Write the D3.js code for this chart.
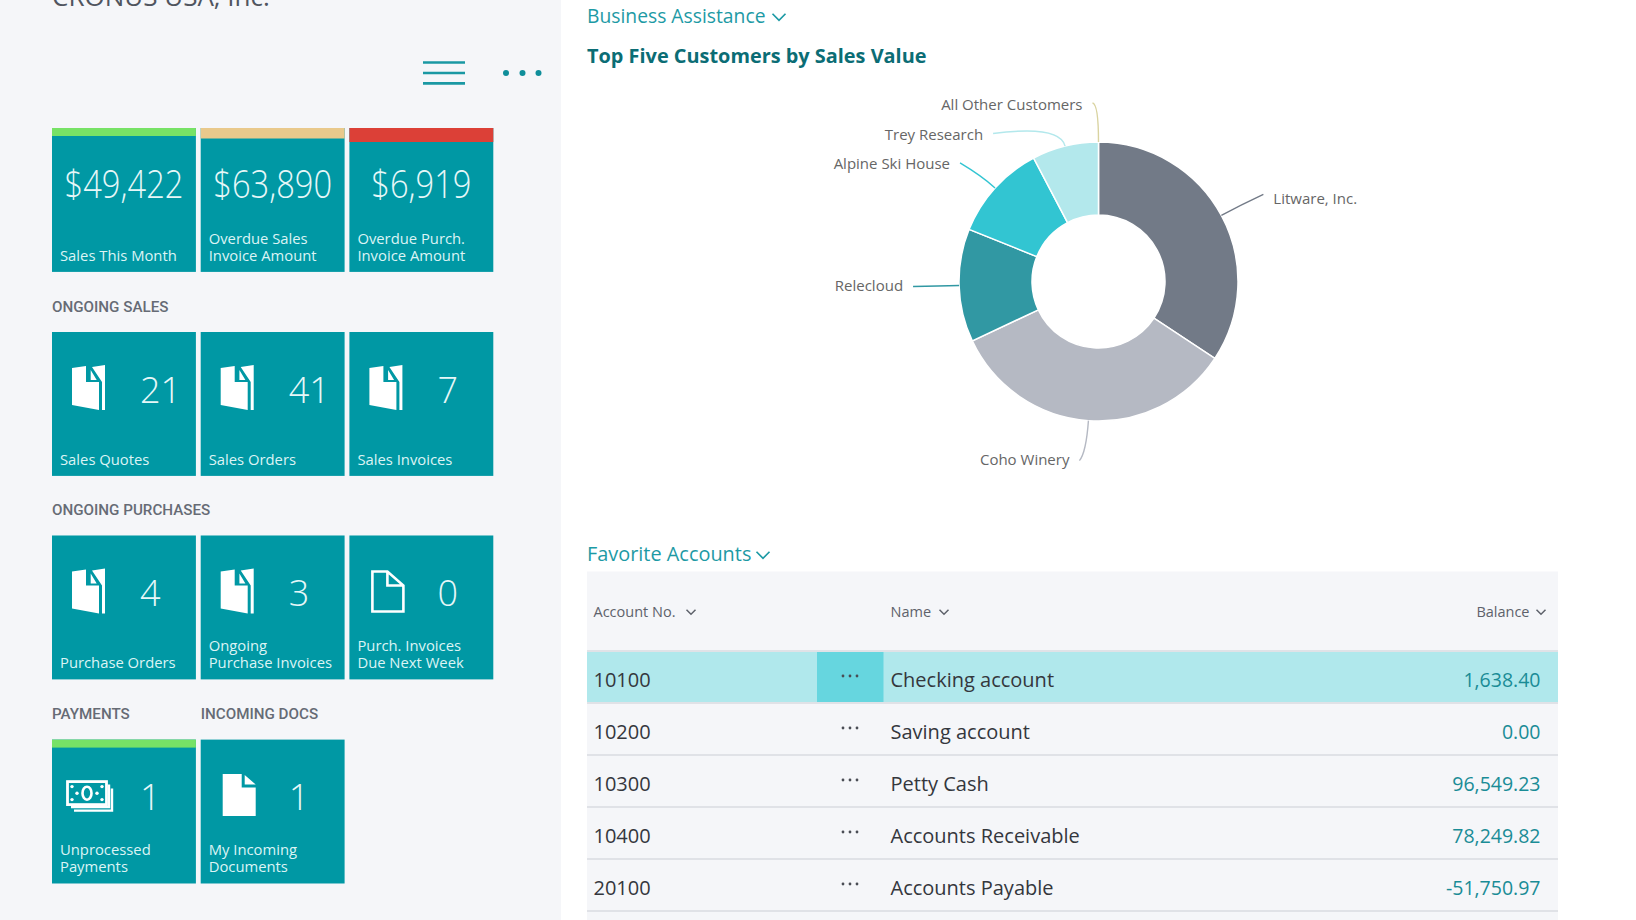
<!DOCTYPE html>
<html>
<head>
<meta charset="utf-8">
<title>CRONUS USA, Inc.</title>
<script src="https://cdn.jsdelivr.net/npm/d3@7"></script>
<style>
  html, body { margin: 0; padding: 0; background: #fff; overflow: hidden; }
  text { font-family: "Open Sans", sans-serif; }
  .section { font-family: Roboto, sans-serif; font-weight: 500; }
</style>
</head>
<body>
<svg id="page" width="1636" height="920"></svg>
<script>
// tiles
var tileLabels = ['Sales This Month', 'Overdue Sales\nInvoice Amount', 'Overdue Purch.\nInvoice Amount',
  'Sales Quotes', 'Sales Orders', 'Sales Invoices',
  'Purchase Orders', 'Ongoing\nPurchase Invoices', 'Purch. Invoices\nDue Next Week',
  'Unprocessed\nPayments', 'My Incoming\nDocuments'];
var tileValues = ['$49,422', '$63,890', '$6,919', '21', '41', '7', '4', '3', '0', '1', '1'];
var tileIcons = ['', '', '', 'pages', 'pages', 'pages', 'pages', 'pages', 'outline', 'money', 'solid'];
var tileStatus = ['good', 'warn', 'bad', '', '', '', '', '', '', 'good', ''];
var sectionNames = ['ONGOING SALES', 'ONGOING PURCHASES', 'PAYMENTS', 'INCOMING DOCS'];

// donut
var customers = ['Litware, Inc.', 'Coho Winery', 'Relecloud', 'Alpine Ski House', 'Trey Research', 'All Other Customers'];
var salesShare = [34.3, 33.7, 13.1, 11.2, 7.7, 0];

// accounts table
var accountNos = ['10100', '10200', '10300', '10400', '20100'];
var accountNames = ['Checking account', 'Saving account', 'Petty Cash', 'Accounts Receivable', 'Accounts Payable'];
var accountBalances = [1638.40, 0, 96549.23, 78249.82, -51750.97];

var TEAL = '#0098a4';
var svg = d3.select('#page');

svg.append('rect').attr('width', 561).attr('height', 920).attr('fill', '#f5f6f9');

// ---- left panel ----
svg.append('text').attr('x', 52).attr('y', 6).attr('font-size', 26).attr('fill', '#50555f').text('CRONUS USA, Inc.');

var menu = svg.append('g').attr('stroke', '#1a98a3').attr('stroke-width', 2.6);
[62.5, 73, 83.4].forEach(function(y) {
  menu.append('line').attr('x1', 423).attr('x2', 465).attr('y1', y).attr('y2', y);
});
[506, 522.5, 538.5].forEach(function(x) {
  svg.append('circle').attr('cx', x).attr('cy', 73).attr('r', 3).attr('fill', '#0f8e9a');
});

var col = d3.scaleLinear().domain([0, 1]).range([52, 200.7]);
var row = d3.scaleLinear().domain([0, 1]).range([128, 332]);
var rowY = [0, 1, 1.9975, 2.998];
var tileSize = 143.9;
var statusColors = { good: '#77e266', warn: '#e9c98c', bad: '#dc4037' };
var statusHeights = { good: 8, warn: 10.5, bad: 14 };

function tileRow(i) { return i < 3 ? 0 : i < 6 ? 1 : i < 9 ? 2 : 3; }
function tileCol(i) { return i < 9 ? i % 3 : i - 9; }

var tiles = svg.selectAll('g.tile').data(tileLabels).enter().append('g')
  .attr('class', 'tile')
  .attr('transform', function(d, i) { return 'translate(' + col(tileCol(i)) + ',' + row(rowY[tileRow(i)]) + ')'; });

tiles.append('rect').attr('width', tileSize).attr('height', tileSize).attr('fill', TEAL);
tiles.filter(function(d, i) { return tileStatus[i]; }).append('rect')
  .attr('width', tileSize)
  .attr('height', function(d) { return statusHeights[tileStatus[tileLabels.indexOf(d)]]; })
  .attr('fill', function(d) { return statusColors[tileStatus[tileLabels.indexOf(d)]]; });

tiles.each(function(d, i) {
  var g = d3.select(this);
  var lines = d.split('\n');
  lines.forEach(function(line, k) {
    g.append('text').attr('x', 8).attr('y', 132.5 - (lines.length - 1 - k) * 17)
      .attr('font-size', 14.8).attr('fill', '#dcf4f5').text(line);
  });
  if (tileIcons[i]) {
    g.append('text').attr('x', 88).attr('y', 70.5).attr('font-size', 36).attr('font-weight', 300)
      .attr('fill', '#e6f7f8').text(tileValues[i]);
    drawIcon(g, tileIcons[i]);
  } else {
    g.append('text').attr('transform', 'translate(72,70) scale(0.86,1)').attr('text-anchor', 'middle')
      .attr('font-size', 38).attr('font-weight', 300).attr('fill', '#e6f7f8').text(tileValues[i]);
  }
});

function drawIcon(g, kind) {
  if (kind == 'pages') {
    g.append('path').attr('fill', '#fff').attr('d',
      'M20 36 L34 34 L34 50 L47 50 L47 78 L20 73 Z M38.7 38 L44.7 48 L38.7 48 Z M40 35 L53 33 L53 78 L50 78 L50 50 Z');
  } else if (kind == 'outline') {
    g.append('path').attr('fill', 'none').attr('stroke', '#fff').attr('stroke-width', 2.6).attr('d',
      'M23 36 L38 36 L54 50 L54 76 L23 76 Z M38 36 L38 50 L54 50');
  } else if (kind == 'solid') {
    g.append('path').attr('fill', '#fff').attr('d', 'M22 34.5 L41 34.5 L41 48 L55 48 L55 76.5 L22 76.5 Z M44 35.5 L55 45 L44 45 Z');
  } else if (kind == 'money') {
    var m = g.append('g').attr('fill', 'none').attr('stroke', '#fff');
    m.append('rect').attr('x', 15.5).attr('y', 42).attr('width', 39).attr('height', 23).attr('stroke-width', 2.8);
    m.append('path').attr('stroke-width', 2.4).attr('d', 'M57 45 L57 67.5 L19 67.5 M60 49 L60 71 L22 71');
    m.append('ellipse').attr('cx', 35).attr('cy', 53.6).attr('rx', 4.5).attr('ry', 6.5).attr('stroke-width', 2.6);
    [[20, 47], [50, 47], [20, 60], [50, 60], [25, 53.6], [45, 53.6]].forEach(function(p) {
      g.append('circle').attr('cx', p[0]).attr('cy', p[1]).attr('r', 1.7).attr('fill', '#fff');
    });
  }
}

var sectionCol = [0, 0, 0, 1];
var sectionRow = [1, 2, 3, 3];
svg.selectAll('text.section').data(sectionNames).enter().append('text')
  .attr('class', 'section')
  .attr('x', function(d, i) { return col(sectionCol[i]); })
  .attr('y', function(d, i) { return row(rowY[sectionRow[i]]) - 20.5; })
  .attr('font-size', 15.2).attr('fill', '#666b75').text(function(d) { return d; });

// ---- right panel headings ----
function heading(label, y, size, weight, color) {
  return svg.append('text').attr('x', 587).attr('y', y).attr('font-size', size)
    .attr('font-weight', weight).attr('fill', color).text(label);
}
function chevron(x, y, w, color, sw) {
  svg.append('path').attr('fill', 'none').attr('stroke', color).attr('stroke-width', sw)
    .attr('d', 'M' + (x - w / 2) + ' ' + (y - w / 4) + ' L' + x + ' ' + (y + w / 4) + ' L' + (x + w / 2) + ' ' + (y - w / 4));
}
heading('Business Assistance', 22.5, 19.3, 400, '#1d9aa5');
chevron(779, 17, 13, '#1d9aa5', 1.7);
heading('Top Five Customers by Sales Value', 63, 19.9, 700, '#0b6d75');
heading('Favorite Accounts', 560.5, 19.9, 400, '#1d9aa5');
chevron(763, 555, 13, '#1d9aa5', 1.7);

// ---- donut ----
var donutColors = ['#727a87', '#b5b9c3', '#3198a3', '#32c5d2', '#b3e8ec', '#d9d3a0'];
// offset of each label's line end from its slice, and how far the line runs out before it bends
var leaderEnds = [[42, -21], [-9, 40], [-46, 1], [-35, -25], [-72, -12.5], [-6, -39]];
var leaderBends = [22, 32, 20, 18, 22, 38];
var labelNudge = [4.5, -1, 0, 1.5, 1, 1.5];
var cx = 1098.5, cy = 281.5, outerR = 139.5, innerR = 66.5;

var pie = d3.pie().sort(null).startAngle(0).endAngle(2 * Math.PI);
var arcs = pie(salesShare);
var arc = d3.arc().innerRadius(innerR).outerRadius(outerR);
var donut = svg.append('g').attr('transform', 'translate(' + cx + ',' + cy + ')');

donut.selectAll('path.slice').data(arcs).enter().append('path')
  .attr('class', 'slice')
  .attr('d', arc)
  .attr('fill', function(d, i) { return donutColors[i]; })
  .attr('stroke', '#fff').attr('stroke-width', function(d) { return d.value > 0 ? 1.5 : 0; });

function onRing(d, r) {
  return d3.arc().innerRadius(r).outerRadius(r).centroid(d);
}
arcs.forEach(function(d, i) {
  var start = onRing(d, outerR);
  var bend = onRing(d, outerR + leaderBends[i]);
  var end = [start[0] + leaderEnds[i][0], start[1] + leaderEnds[i][1]];
  var p = d3.path();
  p.moveTo(start[0], start[1]);
  p.quadraticCurveTo(bend[0], bend[1], end[0], end[1]);
  donut.append('path').attr('d', p.toString()).attr('fill', 'none')
    .attr('stroke', donutColors[i]).attr('stroke-width', 1.4);
  var right = end[0] > 0;
  donut.append('text')
    .attr('x', end[0] + (right ? 10 : -10)).attr('y', end[1] + 5 + labelNudge[i])
    .attr('text-anchor', right ? 'start' : 'end')
    .attr('font-size', 15).attr('fill', '#666').text(customers[i]);
});

// ---- accounts table ----
var tableLeft = 587, tableRight = 1558, tableTop = 571.5;
var rows = d3.scaleBand().domain(accountNos).range([651, 911]);
var balanceFmt = d3.format(',.2f');

svg.append('rect').attr('x', tableLeft).attr('y', tableTop).attr('width', tableRight - tableLeft)
  .attr('height', 920 - tableTop).attr('fill', '#f5f6f9');
svg.append('rect').attr('x', tableLeft).attr('y', rows(accountNos[0])).attr('width', tableRight - tableLeft)
  .attr('height', rows.bandwidth()).attr('fill', '#b0e8ec');
svg.append('rect').attr('x', 817).attr('y', rows(accountNos[0])).attr('width', 66.5)
  .attr('height', rows.bandwidth()).attr('fill', '#66d6df');

var headers = [['Account No.', 593.5, 'start', 691], ['Name', 890.5, 'start', 944], ['Balance', 1529.5, 'end', 1541]];
headers.forEach(function(h) {
  svg.append('text').attr('x', h[1]).attr('y', 617).attr('text-anchor', h[2])
    .attr('font-size', 14.5).attr('fill', '#5e626b').text(h[0]);
  chevron(h[3], 612, 9, '#5e626b', 1.5);
});

[651].concat(accountNos.map(function(a) { return rows(a) + rows.bandwidth(); })).forEach(function(y) {
  svg.append('line').attr('x1', tableLeft).attr('x2', tableRight).attr('y1', y).attr('y2', y)
    .attr('stroke', '#e0e2e7').attr('stroke-width', 2);
});

var accountRows = svg.selectAll('g.account').data(accountNos).enter().append('g')
  .attr('class', 'account')
  .attr('transform', function(d) { return 'translate(0,' + (rows(d) + rows.bandwidth() / 2) + ')'; });

accountRows.append('text').attr('x', 593.5).attr('y', 10).attr('font-size', 20).attr('fill', '#34373d')
  .text(function(d) { return d; });
accountRows.append('text').attr('x', 890.5).attr('y', 10).attr('font-size', 20).attr('fill', '#34373d')
  .text(function(d, i) { return accountNames[i]; });
accountRows.append('text').attr('x', 1540.5).attr('y', 10).attr('text-anchor', 'end').attr('font-size', 19.5)
  .attr('fill', '#1a8c96').text(function(d, i) { return balanceFmt(accountBalances[i]).replace('−', '-'); });
[-7, 0, 7].forEach(function(dx) {
  accountRows.append('circle').attr('cx', 850 + dx).attr('cy', -1).attr('r', 1.4).attr('fill', '#4a4d55');
});
</script>
</body>
</html>
